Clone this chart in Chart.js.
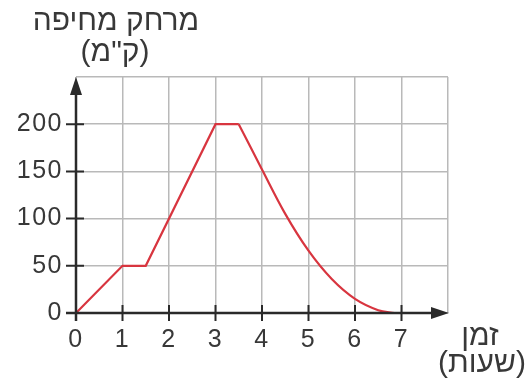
<!DOCTYPE html>
<html lang="he">
<head>
<meta charset="UTF-8">
<title>מרחק מחיפה</title>
<script src="https://cdn.jsdelivr.net/npm/chart.js"></script>
<style>
  html, body { margin: 0; padding: 0; background: #fff; }
  #wrap { width: 528px; height: 381px; }
</style>
</head>
<body>
<div id="wrap"><canvas id="chart" width="528" height="381"></canvas></div>
<script>
// Data
const riseHours = [0, 1, 1.5, 3, 3.5];
const riseKm = [0, 50, 50, 200, 200];
const returnHours = [3.5, 4, 4.5, 5, 5.5, 6, 6.5, 6.85];
const returnKm = [200, 152, 105, 66, 36, 15, 3, 0];
const xTicks = [0, 1, 2, 3, 4, 5, 6, 7];
const yTicks = [0, 50, 100, 150, 200];

const yTitle = ['מרחק מחיפה', '(ק"מ)'];
const xTitle = ['זמן', '(שעות)'];

const RED = '#d8353f';
const INK = '#2a2a2a';
const TEXT = '#383838';
const FONT = '"Liberation Sans", "DejaVu Sans", Arial, sans-serif';

const toPoints = (xs, ys) => xs.map((x, i) => ({ x, y: ys[i] }));

// Axes with arrows, crossing tick marks and the Hebrew titles
const axesPlugin = {
  id: 'axes',
  beforeDraw(chart) {
    chart.ctx.letterSpacing = '1.5px';
  },
  afterDraw(chart) {
    const { ctx, scales: { x, y } } = chart;
    const x0 = x.getPixelForValue(0);
    const y0 = y.getPixelForValue(0);
    ctx.save();
    ctx.letterSpacing = '0px';
    ctx.strokeStyle = INK;
    ctx.fillStyle = INK;
    ctx.lineWidth = 2.5;

    // axis lines
    ctx.beginPath();
    ctx.moveTo(x0, y0 + 8);
    ctx.lineTo(x0, 86);
    ctx.moveTo(x0 - 10, y0);
    ctx.lineTo(438, y0);
    ctx.stroke();

    // arrow heads
    ctx.beginPath();
    ctx.moveTo(x0, 77);
    ctx.lineTo(x0 - 6, 95);
    ctx.lineTo(x0 + 6, 95);
    ctx.closePath();
    ctx.fill();
    ctx.beginPath();
    ctx.moveTo(449, y0);
    ctx.lineTo(431, y0 - 6);
    ctx.lineTo(431, y0 + 6);
    ctx.closePath();
    ctx.fill();

    // tick marks
    ctx.lineWidth = 2;
    ctx.beginPath();
    xTicks.forEach(v => {
      const px = x.getPixelForValue(v);
      ctx.moveTo(px, y0 - 8);
      ctx.lineTo(px, y0 + 8);
    });
    yTicks.forEach(v => {
      if (v === 0) return;
      const py = y.getPixelForValue(v);
      ctx.moveTo(x0 - 10, py);
      ctx.lineTo(x0 + 8, py);
    });
    ctx.stroke();

    // titles
    ctx.fillStyle = TEXT;
    ctx.direction = 'rtl';
    ctx.textAlign = 'center';
    ctx.textBaseline = 'middle';
    ctx.font = '30px ' + FONT;
    ctx.fillText(yTitle[0], 116, 22);
    ctx.fillText(yTitle[1], 115, 53);
    ctx.fillText(xTitle[0], 480, 337);
    ctx.fillText(xTitle[1], 482, 364);
    ctx.restore();
  }
};

new Chart(document.getElementById('chart'), {
  type: 'line',
  data: {
    datasets: [
      {
        data: toPoints(riseHours, riseKm),
        borderColor: RED,
        borderWidth: 2.2,
        pointRadius: 0,
        tension: 0
      },
      {
        data: toPoints(returnHours, returnKm),
        borderColor: RED,
        borderWidth: 2.2,
        pointRadius: 0,
        tension: 0.35
      }
    ]
  },
  options: {
    responsive: false,
    animation: false,
    events: [],
    layout: { padding: { top: 77, right: 80, left: 0, bottom: 0 } },
    plugins: { legend: { display: false }, tooltip: { enabled: false } },
    scales: {
      x: {
        type: 'linear',
        min: 0,
        max: 8,
        afterFit: s => { s.height = 68; },
        border: { display: false },
        grid: { color: '#b9b9b9', lineWidth: 1.5, drawTicks: false },
        ticks: {
          stepSize: 1,
          padding: 12,
          color: TEXT,
          font: { family: FONT, size: 25 },
          callback: v => (xTicks.includes(v) ? String(v) : '')
        }
      },
      y: {
        min: 0,
        max: 250,
        afterFit: s => { s.width = 76; },
        border: { display: false },
        grid: { color: '#b9b9b9', lineWidth: 1.5, drawTicks: false },
        ticks: {
          stepSize: 50,
          padding: 13,
          color: TEXT,
          font: { family: FONT, size: 25 },
          callback: v => (yTicks.includes(v) ? String(v) : '')
        }
      }
    }
  },
  plugins: [axesPlugin]
});
</script>
</body>
</html>
